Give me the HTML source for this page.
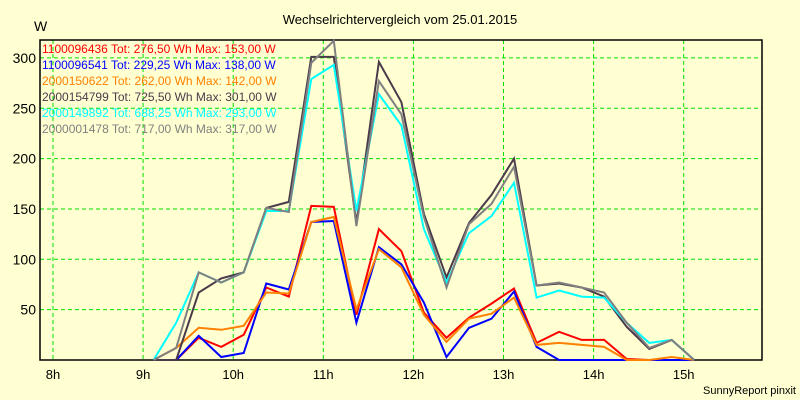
<!DOCTYPE html>
<html><head><meta charset="utf-8"><style>
body{margin:0;background:#ffffd2;}
svg{display:block;font-family:"Liberation Sans",sans-serif;}
</style></head><body>
<svg id="chart" width="800" height="400">
<rect x="0" y="0" width="800" height="400" fill="#ffffd2"/>
<text x="400" y="24" text-anchor="middle" font-size="13" fill="#000">Wechselrichtervergleich vom 25.01.2015</text>
<text x="34" y="31" font-size="14" fill="#000">W</text>
<g id="grid"></g>
<g id="axes"></g>
<g id="series"></g>
<g id="legend"></g>
<text x="796" y="394" text-anchor="end" font-size="11" fill="#000">SunnyReport pinxit</text>
</svg>
<script>
const hourTicks = [8,9,10,11,12,13,14,15];
const hourLabels = ["8h","9h","10h","11h","12h","13h","14h","15h"];
const yTicks = [50,100,150,200,250,300];
const times = [];
for (let k = 0; k < 25; k++) times.push(9.117 + 0.25 * k);
const seriesNames = ["1100096436 Tot: 276,50 Wh Max: 153,00 W","1100096541 Tot: 229,25 Wh Max: 138,00 W","2000150622 Tot: 262,00 Wh Max: 142,00 W","2000154799 Tot: 725,50 Wh Max: 301,00 W","2000149892 Tot: 688,25 Wh Max: 293,00 W","2000001478 Tot: 717,00 Wh Max: 317,00 W"];
const seriesColors = ["#ff0000","#0000ff","#ff8000","#4a3a4a","#00ffff","#808080"];
const red = [0,0,22,13,25,72,63,153,152,45,130,108,47,22,42,56,71,17,28,20,20,1,0,0,0];
const blue = [0,0,24,3,7,76,70,137,138,37,112,95,57,3,32,41,68,13,0,0,0,0,0,0,0];
const orange = [0,12,32,30,34,67,66,137,142,50,110,92,45,18,41,46,62,15,17,15,13,0,0,3,0];
const dark = [0,0,67,81,87,151,157,301,301,136,296,256,145,82,136,164,200,74,76,72,63,33,11,20,0];
const cyan = [0,37,87,77,87,148,148,279,293,148,264,233,130,77,126,143,176,62,69,63,62,37,17,20,0];
const gray = [0,12,87,77,87,151,147,295,317,133,277,244,142,72,135,155,192,74,77,72,67,37,12,20,0];
const seriesData = [red, blue, orange, dark, cyan, gray];

const NS = "http://www.w3.org/2000/svg";
const L = 40, R = 762, T = 40, B = 360;
function xPos(h){ return 53 + (h - 8) * 90.1; }
function yPos(v){ return 360 - v * 1.007; }
function mk(tag, attrs, parent){ const e = document.createElementNS(NS, tag); for (const k in attrs) e.setAttribute(k, attrs[k]); parent.appendChild(e); return e; }

const grid = document.getElementById("grid");
const axes = document.getElementById("axes");
mk("rect", {x:L, y:T, width:R-L, height:B-T, fill:"#ffffd2"}, grid);
yTicks.forEach(v => {
  const ln = mk("line", {x1:L, x2:R, y1:yPos(v), y2:yPos(v), stroke:"#00e000", "stroke-dasharray":"4,3"}, grid);
  
  
  const t = mk("text", {x:36, y:yPos(v)+5, "text-anchor":"end", "font-size":"14", fill:"#000"}, axes);
  t.textContent = v;
  
  
});
hourTicks.forEach((h, i) => {
  const ln = mk("line", {x1:xPos(h), x2:xPos(h), y1:T, y2:B, stroke:"#00e000", "stroke-dasharray":"4,3"}, grid);
  
  
  const t = mk("text", {x:xPos(h), y:379, "text-anchor":"middle", "font-size":"13", fill:"#000"}, axes);
  t.textContent = hourLabels[i];
  
  
});
const frame = mk("rect", {x:L, y:T, width:R-L, height:B-T, fill:"none", stroke:"#000", "stroke-width":"1.5"}, axes);



const sg = document.getElementById("series");
seriesData.forEach((arr, s) => {
  const pts = arr.map((v, i) => xPos(times[i]).toFixed(1) + "," + yPos(v).toFixed(1)).join(" ");
  const pl = mk("polyline", {points:pts, fill:"none", stroke:seriesColors[s], "stroke-width":"2", "stroke-linejoin":"miter"}, sg);
  
  
});

const lg = document.getElementById("legend");
seriesNames.forEach((n, s) => {
  const t = mk("text", {x:42, y:53 + s*16, "font-size":"12", fill:seriesColors[s]}, lg);
  t.textContent = n;
  
  
});
</script>
</body></html>
